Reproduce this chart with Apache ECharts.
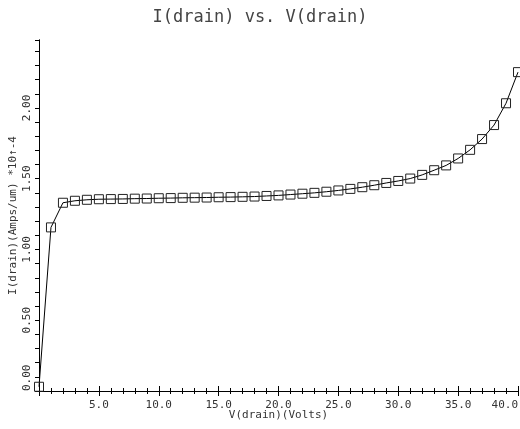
<!DOCTYPE html>
<html>
<head>
<meta charset="utf-8">
<style>
html,body{margin:0;padding:0;background:#fff;}
#chart{width:520px;height:429px;}
</style>
<script src="https://cdn.jsdelivr.net/npm/echarts@6/dist/echarts.min.js"></script>
</head>
<body>
<div id="chart"></div>
<script>
// Data
var vDrain = [0,1,2,3,4,5,6,7,8,9,10,11,12,13,14,15,16,17,18,19,20,
              21,22,23,24,25,26,27,28,29,30,31,32,33,34,35,36,37,38,39,40];
var iDrain = [0.03,1.156,1.330,1.344,1.351,1.355,1.356,1.357,1.359,1.360,1.362,
              1.363,1.365,1.366,1.367,1.369,1.370,1.372,1.374,1.378,1.382,
              1.388,1.394,1.400,1.408,1.417,1.428,1.440,1.454,1.470,1.484,
              1.501,1.527,1.560,1.594,1.643,1.704,1.780,1.879,2.033,2.253];
var titleText = 'I(drain) vs. V(drain)';
var xName = 'V(drain)(Volts)';
var yName = 'I(drain)(Amps/um) *10\u2191-4';

var FONT = 'DejaVu Sans Mono';
var TXT = '#333';
var pts = vDrain.map(function (v, i) { return [v, iDrain[i]]; });

var chart = echarts.init(document.getElementById('chart'), null, {renderer: 'canvas'});
chart.setOption({
  animation: false,
  backgroundColor: '#fff',
  title: {
    text: titleText, left: 'center', top: 4,
    textStyle: {fontFamily: FONT, fontSize: 17, fontWeight: 'normal', color: '#444'}
  },
  grid: {left: 39, right: 2, top: 40, bottom: 38, containLabel: false, outerBoundsMode: 'none'},
  xAxis: [{
    type: 'value', position: 'bottom', min: 0, max: 40, interval: 5,
    name: xName, nameLocation: 'middle', nameGap: 19, nameMoveOverlap: false,
    nameTextStyle: {fontFamily: FONT, fontSize: 11, color: TXT},
    axisLine: {show: true, lineStyle: {color: '#000', width: 1}},
    axisTick: {show: true, inside: true, length: 5, lineStyle: {color: '#000'}},
    minorTick: {show: true, splitNumber: 5, length: 3, lineStyle: {color: '#000'}},
    splitLine: {show: false},
    axisLabel: {
      showMinLabel: false, alignMaxLabel: 'right', margin: 9,
      fontFamily: FONT, fontSize: 11, color: TXT,
      formatter: function (v) { return v.toFixed(1); }
    }
  }, {
    type: 'value', position: 'top', min: 0, max: 40, interval: 5,
    axisLine: {show: true, lineStyle: {color: '#000', width: 1}},
    axisTick: {show: true, inside: true, length: 5, lineStyle: {color: '#000'}},
    minorTick: {show: true, splitNumber: 5, length: 3, lineStyle: {color: '#000'}},
    splitLine: {show: false},
    axisLabel: {show: false}
  }],
  yAxis: [{
    type: 'value', position: 'left', min: 0, max: 2.48, interval: 0.5,
    name: yName, nameLocation: 'middle', nameGap: 20, nameRotate: 90, nameMoveOverlap: false,
    nameTextStyle: {fontFamily: FONT, fontSize: 11, color: TXT},
    axisLine: {show: true, lineStyle: {color: '#000', width: 1}},
    axisTick: {show: true, inside: false, length: 3, lineStyle: {color: '#000'}},
    minorTick: {show: true, splitNumber: 5, length: 3, lineStyle: {color: '#000'}},
    splitLine: {show: false},
    axisLabel: {
      rotate: 90, margin: 6, showMaxLabel: false, alignMinLabel: 'left',
      fontFamily: FONT, fontSize: 11, color: TXT,
      formatter: function (v) { return v.toFixed(2); }
    }
  }, {
    type: 'value', position: 'right', min: 0, max: 2.48, interval: 0.5,
    axisLine: {show: true, lineStyle: {color: '#000', width: 1}},
    axisTick: {show: true, inside: true, length: 4, lineStyle: {color: '#000'}},
    minorTick: {show: true, splitNumber: 5, length: 4, lineStyle: {color: '#000'}},
    splitLine: {show: false},
    axisLabel: {show: false}
  }],
  series: [{
    type: 'line', data: pts, xAxisIndex: 0, yAxisIndex: 0,
    symbol: 'rect', symbolSize: 9, showAllSymbol: true,
    lineStyle: {color: '#000', width: 1},
    itemStyle: {color: 'rgba(0,0,0,0)', borderColor: '#222', borderWidth: 1},
    emphasis: {disabled: true}
  }]
});
</script>
</body>
</html>
